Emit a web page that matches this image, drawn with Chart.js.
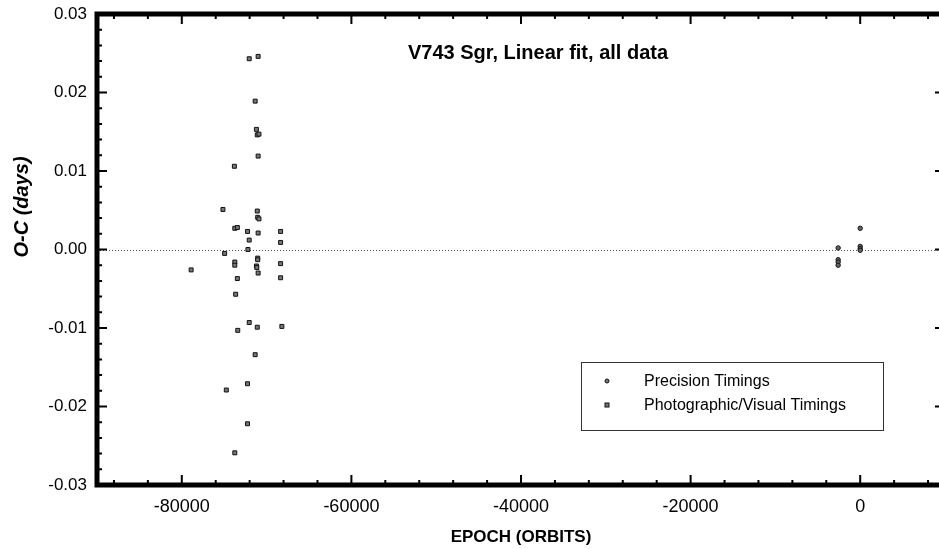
<!DOCTYPE html>
<html>
<head>
<meta charset="utf-8">
<script src="https://cdn.jsdelivr.net/npm/chart.js@4.4.1/dist/chart.umd.min.js"></script>
<style>
  html, body { margin: 0; padding: 0; background: #fff; overflow: hidden; width: 939px; height: 549px; }
  #wrap { position: absolute; left: 0; top: 0; width: 950px; height: 549px; }
</style>
</head>
<body>
<div id="wrap"><canvas id="c" width="950" height="549"></canvas></div>
<script>
// ---- Data ----
const chartTitle = 'V743 Sgr, Linear fit, all data';
const xTitle = 'EPOCH (ORBITS)';
const yTitle = 'O-C (days)';

const precisionLabel = 'Precision Timings';
const precisionEpoch = [0, 0, 0, 0, -2600, -2600, -2600, -2600];
const precisionOC    = [0.0027, 0.0004, 0.0001, -0.0001, 0.0002, -0.0013, -0.0016, -0.0020];

const photoLabel = 'Photographic/Visual Timings';
const photoEpoch = [
  -71000, -72050, -71350, -71200, -71100, -70900, -71000, -73800, -75150, -71100,
  -71050, -70900, -73750, -73450, -72250, -71000, -68350, -72050, -68350, -72200,
  -74950, -71050, -71050, -73750, -73750, -71200, -71150, -68350, -78900, -71000,
  -68350, -73450, -73650, -72050, -71100, -73400, -68200, -71350, -72250, -74750,
  -72250, -73750
];
const photoOC = [
  0.0246, 0.0243, 0.0189, 0.0153, 0.0146, 0.0147, 0.0119, 0.0106, 0.0051, 0.0049,
  0.0041, 0.0039, 0.0027, 0.0028, 0.0023, 0.0021, 0.0023, 0.0012, 0.0009, 0.0000,
  -0.0005, -0.0011, -0.0013, -0.0016, -0.0020, -0.0021, -0.0023, -0.0018, -0.0026, -0.0030,
  -0.0036, -0.0037, -0.0057, -0.0093, -0.0099, -0.0103, -0.0098, -0.0134, -0.0171, -0.0179,
  -0.0222, -0.0259
];

const xTicks = [-80000, -60000, -40000, -20000, 0];
const xTickLabels = ['-80000', '-60000', '-40000', '-20000', '0'];
const yTicks = [-0.03, -0.02, -0.01, 0.00, 0.01, 0.02, 0.03];
const yTickLabels = ['-0.03', '-0.02', '-0.01', '0.00', '0.01', '0.02', '0.03'];

const xMin = -90000, xMax = 10000, xMinorStep = 4000;
const yMin = -0.03, yMax = 0.03, yMinorStep = 0.002;

// ---- Chart ----
const FONT = '"Liberation Sans", Arial, Helvetica, sans-serif';
Chart.defaults.font.family = FONT;
Chart.defaults.color = '#000';

const toPts = (xs, ys) => xs.map((x, i) => ({ x: x, y: ys[i] }));

const decor = {
  id: 'decor',
  beforeDatasetsDraw(chart) {
    const { ctx, chartArea: a, scales: { y } } = chart;
    const y0 = Math.round(y.getPixelForValue(0)) + 0.5;
    ctx.save();
    ctx.strokeStyle = '#555';
    ctx.lineWidth = 1;
    ctx.setLineDash([1, 2]);
    ctx.beginPath();
    ctx.moveTo(a.left, y0);
    ctx.lineTo(a.right, y0);
    ctx.stroke();
    ctx.restore();
  },
  afterDraw(chart) {
    const { ctx, chartArea: a, scales: { x, y } } = chart;
    ctx.save();
    ctx.strokeStyle = '#000';
    ctx.lineCap = 'butt';
    ctx.lineWidth = 2;
    // inward ticks, bottom and top
    for (let k = Math.ceil(xMin / xMinorStep); k * xMinorStep <= xMax; k++) {
      const v = k * xMinorStep;
      const px = x.getPixelForValue(v);
      const len = xTicks.includes(v) ? 10 : 5;
      ctx.beginPath();
      ctx.moveTo(px, a.bottom); ctx.lineTo(px, a.bottom - len);
      ctx.moveTo(px, a.top); ctx.lineTo(px, a.top + len);
      ctx.stroke();
    }
    // inward ticks, left and right
    for (let k = Math.round(yMin / yMinorStep); k <= Math.round(yMax / yMinorStep); k++) {
      const v = k * yMinorStep;
      const py = y.getPixelForValue(v);
      const len = (k % 5 === 0) ? 10 : 5;
      ctx.beginPath();
      ctx.moveTo(a.left, py); ctx.lineTo(a.left + len, py);
      ctx.moveTo(a.right, py); ctx.lineTo(a.right - len, py);
      ctx.stroke();
    }
    // thick frame
    ctx.lineWidth = 5;
    ctx.lineJoin = 'miter';
    ctx.strokeRect(a.left, a.top, a.right - a.left, a.bottom - a.top);

    // chart title inside plot
    ctx.fillStyle = '#000';
    ctx.font = 'bold 20px ' + FONT;
    ctx.textAlign = 'center';
    ctx.textBaseline = 'middle';
    ctx.fillText(chartTitle, 538, 53);

    // y-axis title
    ctx.save();
    ctx.translate(22, 207);
    ctx.rotate(-Math.PI / 2);
    ctx.font = 'italic bold 20px ' + FONT;
    ctx.fillText(yTitle, 0, 0);
    ctx.restore();

    // legend box
    ctx.lineWidth = 1;
    ctx.strokeStyle = '#333';
    ctx.strokeRect(581.5, 362.5, 302, 68);
    const ds = chart.data.datasets;
    ctx.font = '16px ' + FONT;
    ctx.textAlign = 'left';
    const rows = [381, 405];
    ds.forEach((d, i) => {
      ctx.fillStyle = '#777';
      ctx.strokeStyle = '#111';
      ctx.lineWidth = 1;
      if (d.pointStyle === 'circle') {
        ctx.beginPath();
        ctx.arc(607, rows[i], 2, 0, Math.PI * 2);
        ctx.fill(); ctx.stroke();
      } else {
        ctx.fillRect(605, rows[i] - 2, 4, 4);
        ctx.strokeRect(605, rows[i] - 2, 4, 4);
      }
      ctx.fillStyle = '#000';
      ctx.fillText(d.label, 644, rows[i] + 1);
    });
    ctx.restore();
  }
};

new Chart(document.getElementById('c'), {
  type: 'scatter',
  data: {
    datasets: [
      {
        label: precisionLabel,
        data: toPts(precisionEpoch, precisionOC),
        pointStyle: 'circle',
        pointRadius: 2.2,
        backgroundColor: '#666',
        borderColor: '#111',
        borderWidth: 1
      },
      {
        label: photoLabel,
        data: toPts(photoEpoch, photoOC),
        pointStyle: 'rect',
        pointRadius: 2.8,
        backgroundColor: '#777',
        borderColor: '#111',
        borderWidth: 1
      }
    ]
  },
  options: {
    responsive: false,
    animation: false,
    devicePixelRatio: 1,
    layout: { padding: { left: 0, right: 5, top: 14, bottom: 0 } },
    plugins: { legend: { display: false }, tooltip: { enabled: false } },
    scales: {
      x: {
        type: 'linear',
        min: xMin, max: xMax,
        grid: { display: false, drawTicks: false },
        border: { display: false },
        afterBuildTicks: s => { s.ticks = xTicks.map(v => ({ value: v })); },
        afterFit: s => { s.height = 64; s.paddingLeft = 0; s.paddingRight = 0; },
        ticks: {
          font: { size: 18 }, color: '#000', padding: 11, maxRotation: 0,
          callback: (v, i) => xTickLabels[i]
        },
        title: { display: true, text: xTitle, font: { size: 17, weight: 'bold' }, color: '#000', padding: { top: 0, bottom: 1 } }
      },
      y: {
        type: 'linear',
        min: yMin, max: yMax,
        grid: { display: false, drawTicks: false },
        border: { display: false },
        afterBuildTicks: s => { s.ticks = yTicks.map(v => ({ value: v })); },
        afterFit: s => { s.width = 97; s.paddingTop = 0; s.paddingBottom = 0; },
        ticks: {
          font: { size: 17 }, color: '#000', padding: 10,
          callback: (v, i) => yTickLabels[i]
        }
      }
    }
  },
  plugins: [decor]
});
</script>
</body>
</html>
